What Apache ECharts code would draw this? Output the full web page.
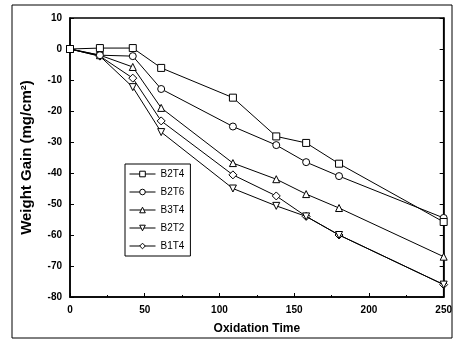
<!DOCTYPE html>
<html>
<head>
<meta charset="utf-8">
<script src="https://cdn.jsdelivr.net/npm/echarts@6/dist/echarts.min.js"></script>
<style>
  html, body { margin: 0; padding: 0; background: #fff; }
  #main { width: 455px; height: 350px; }
</style>
</head>
<body>
<div id="main"></div>
<script>
// oxidation time (x) and weight gain per sample
const times = [0, 20, 42, 61, 109, 138, 158, 180, 250];
const b2t4 = [0, 0.3, 0.3, -6.1, -15.7, -28.2, -30.3, -37, -55.8];
const b2t6 = [0, -2, -2.3, -12.9, -25, -31, -36.5, -41, -54.5];
const b3t4 = [0, -2, -5.8, -19, -36.8, -42, -46.8, -51.3, -67];
const b2t2 = [0, -2.3, -12.3, -26.8, -45, -50.6, -54, -60, -76];
const b1t4 = [0, -2.3, -9.4, -23.2, -40.6, -47.4, -54, -60, -76];

const names = ['B2T4', 'B2T6', 'B3T4', 'B2T2', 'B1T4'];
const values = [b2t4, b2t6, b3t4, b2t2, b1t4];
const symbols = ['rect', 'circle', 'triangle', 'path://M0,0 L10,0 L5,10 Z', 'diamond'];

const chart = echarts.init(document.getElementById('main'));
const font = 'Liberation Sans, Arial, sans-serif';

const option = {
  backgroundColor: '#fff',
  animation: false,
  textStyle: { fontFamily: font, color: '#000' },
  graphic: [
    {
      type: 'rect',
      shape: { x: 12, y: 5, width: 440, height: 333 },
      style: { fill: 'none', stroke: '#000', lineWidth: 1 }
    }
  ],
  grid: {
    left: 70, top: 18, width: 375, bottom: 53,
    show: true, borderColor: '#000', borderWidth: 1.5, backgroundColor: 'transparent'
  },
  legend: {
    orient: 'vertical',
    left: 125, top: 164,
    data: names,
    itemWidth: 26, itemHeight: 7, itemGap: 8,
    padding: [5, 6, 5, 4],
    borderColor: '#000', borderWidth: 1,
    itemStyle: { color: '#fff', borderColor: '#000', borderWidth: 1 },
    lineStyle: { color: '#000', width: 1 },
    textStyle: { fontSize: 10, fontFamily: font, color: '#000' }
  },
  xAxis: {
    type: 'value', min: 0, max: 250, interval: 50,
    name: 'Oxidation Time', nameLocation: 'middle', nameGap: 26,
    nameTextStyle: { fontSize: 12, fontWeight: 'bold', color: '#000' },
    axisLine: { onZero: false, lineStyle: { color: '#000', width: 1.5 } },
    axisTick: { inside: true, length: 4, lineStyle: { color: '#000' } },
    minorTick: { show: true, splitNumber: 2, length: 2, lineStyle: { color: '#000' } },
    axisLabel: { fontSize: 10, fontWeight: 'bold', color: '#000', margin: 8 },
    splitLine: { show: false }
  },
  yAxis: [
    {
      type: 'value', min: -80, max: 10, interval: 10,
      name: 'Weight Gain (mg/cm²)', nameLocation: 'middle', nameGap: 36, nameRotate: 90,
      nameTextStyle: { fontSize: 15, fontWeight: 'bold', color: '#000' },
      axisLine: { onZero: false, lineStyle: { color: '#000', width: 1.5 } },
      axisTick: { inside: true, length: 4, lineStyle: { color: '#000' } },
      axisLabel: { fontSize: 10, fontWeight: 'bold', color: '#000', margin: 8 },
      splitLine: { show: false }
    },
    {
      type: 'value', min: -80, max: 10, interval: 10, position: 'right',
      axisLine: { show: true, onZero: false, lineStyle: { color: '#000', width: 1.5 } },
      axisTick: { inside: true, length: 4, lineStyle: { color: '#000' } },
      axisLabel: { show: false },
      splitLine: { show: false }
    }
  ],
  series: names.map((n, i) => ({
    name: n,
    type: 'line',
    data: times.map((t, j) => [t, values[i][j]]),
    symbol: symbols[i],
    symbolSize: i === 4 ? 8 : 7,
    showAllSymbol: true,
    lineStyle: { color: '#000', width: 1 },
    itemStyle: { color: '#fff', borderColor: '#000', borderWidth: 1 },
    z: 10 - i
  }))
};

chart.setOption(option);
</script>
</body>
</html>
